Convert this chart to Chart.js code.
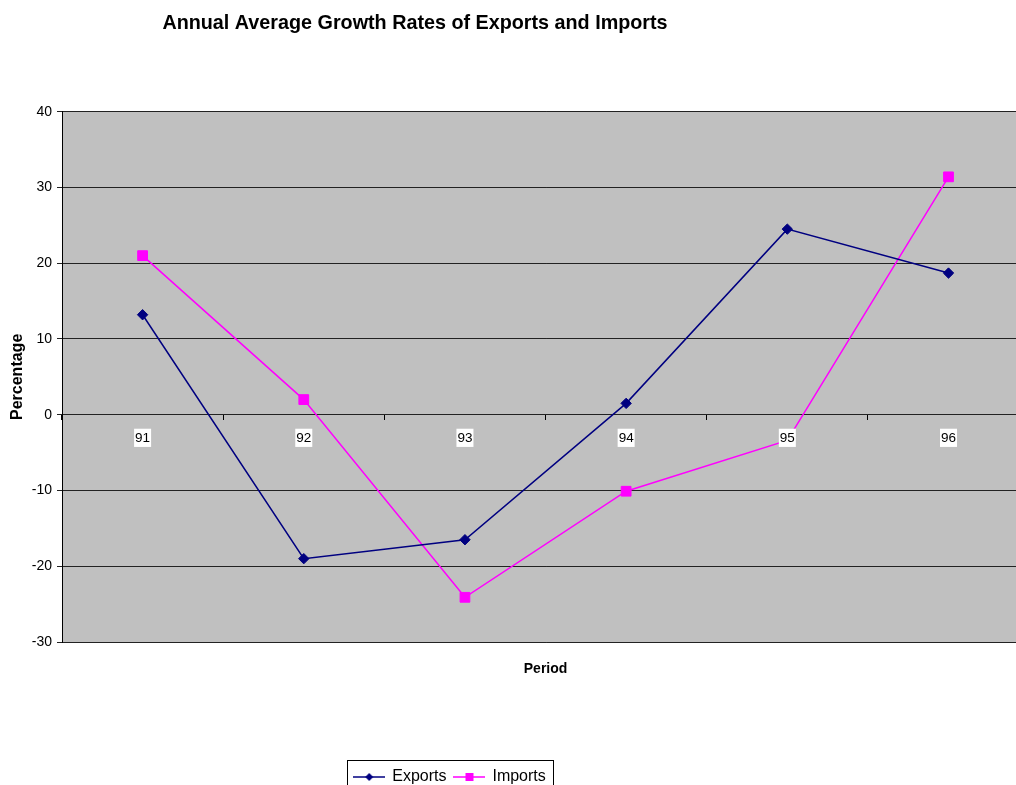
<!DOCTYPE html>
<html><head><meta charset="utf-8">
<script src="https://cdn.jsdelivr.net/npm/chart.js@4"></script>
<style>
html,body{margin:0;padding:0;overflow:hidden;background:#fff;}
#wrap{width:1037px;height:795px;}
</style></head><body>
<div id="wrap"><canvas id="c" width="1037" height="795"></canvas></div>
<script>
// ---- data ----
const categories = ['91', '92', '93', '94', '95', '96'];
const exportsValues = [13.2, -19.0, -16.5, 1.5, 24.5, 18.7];
const importsValues = [21.0, 2.0, -24.1, -10.1, -3.4, 31.4];
const yMin = -30, yMax = 40, yStep = 10;
const chartTitle = 'Annual Average Growth Rates of Exports and Imports';
const xTitle = 'Period';
const yTitle = 'Percentage';
const seriesNames = ['Exports', 'Imports'];

// ---- style ----
const FONT = "'Liberation Sans', Arial, sans-serif";
const EXP_COLOR = '#000080';
const IMP_COLOR = '#FF00FF';
const PLOT_BG = '#C0C0C0';
const TITLE_CX = 415;
const LEGEND_CX = 450;
const Y_AXIS_W = 62;
const X2_H = 119;

function legendIcon(color, shape) {
  const c = document.createElement('canvas');
  c.width = 32; c.height = 12;
  const g = c.getContext('2d');
  g.strokeStyle = color; g.lineWidth = 1.5;
  g.beginPath(); g.moveTo(0, 6); g.lineTo(32, 6); g.stroke();
  g.fillStyle = color;
  if (shape === 'diamond') {
    g.beginPath(); g.moveTo(12, 6); g.lineTo(16, 2); g.lineTo(20, 6); g.lineTo(16, 10); g.closePath(); g.fill();
  } else {
    g.fillRect(12, 2, 8, 8);
  }
  return c;
}
const icons = [legendIcon(EXP_COLOR, 'diamond'), legendIcon(IMP_COLOR, 'square')];

const plotBg = {
  id: 'plotBg',
  beforeDraw(chart) {
    const {ctx, chartArea: a} = chart;
    ctx.save(); ctx.fillStyle = PLOT_BG;
    ctx.fillRect(a.left, a.top, a.right - a.left, a.bottom - a.top);
    ctx.restore();
  }
};
const shiftBlocks = {
  id: 'shiftBlocks',
  afterLayout(chart) {
    const t = chart.titleBlock;
    if (t) { const d = TITLE_CX - (t.left + t.right) / 2; t.left += d; t.right += d; }
    const l = chart.legend;
    if (l) { const d = LEGEND_CX - (l.left + l.right) / 2; l.left += d; l.right += d; }
  },
  afterDraw(chart) {
    const hb = chart.legend && chart.legend.legendHitBoxes;
    if (!hb || !hb.length) return;
    let l = Infinity, r = -Infinity, t = Infinity, b = -Infinity;
    hb.forEach(h => { l = Math.min(l, h.left); r = Math.max(r, h.left + h.width); t = Math.min(t, h.top); b = Math.max(b, h.top + h.height); });
    const ctx = chart.ctx;
    ctx.save(); ctx.strokeStyle = '#000'; ctx.lineWidth = 1;
    ctx.strokeRect(Math.round(l - 7) + 0.5, Math.round(t - 9) + 0.5, Math.round(r - l + 14), Math.round(b - t + 18));
    ctx.restore();
  }
};

new Chart(document.getElementById('c'), {
  type: 'line',
  data: {
    labels: categories,
    datasets: [
      { label: seriesNames[0], data: exportsValues, borderColor: EXP_COLOR, backgroundColor: EXP_COLOR,
        borderWidth: 1.5, pointStyle: 'rectRot', pointRadius: 5.2, pointBorderWidth: 1, tension: 0, fill: false },
      { label: seriesNames[1], data: importsValues, borderColor: IMP_COLOR, backgroundColor: IMP_COLOR,
        borderWidth: 1.5, pointStyle: 'rect', pointRadius: 6.9, pointBorderWidth: 1, tension: 0, fill: false }
    ]
  },
  options: {
    responsive: false, animation: false, devicePixelRatio: 1,
    layout: { padding: 0 },
    plugins: {
      title: { display: true, text: chartTitle, color: '#000',
        font: { family: FONT, size: 19.75, weight: 'bold' }, padding: { top: 12, bottom: 76 } },
      legend: { display: true, position: 'bottom',
        labels: { usePointStyle: true, pointStyleWidth: 30, color: '#000', padding: 8,
          font: { family: FONT, size: 16 },
          generateLabels(chart) {
            const items = Chart.defaults.plugins.legend.labels.generateLabels(chart);
            items.forEach((it, i) => { it.pointStyle = icons[i]; });
            return items;
          } } },
      tooltip: { enabled: false }
    },
    scales: {
      x: {
        type: 'category', position: { y: 0 }, offset: true,
        grid: { display: true, drawOnChartArea: false, drawTicks: true, tickLength: 5, color: '#000', offset: true },
        border: { display: true, color: '#222', width: 1 },
        ticks: { font: { family: FONT, size: 13.5 }, color: '#000', padding: 10, maxRotation: 0, autoSkip: false,
          showLabelBackdrop: true, backdropColor: '#fff', backdropPadding: { top: 1, bottom: 1, left: 1, right: 1 }, z: 1 }
      },
      x2: {
        type: 'category', axis: 'x', position: 'bottom', offset: true,
        grid: { display: false }, border: { display: false }, ticks: { display: false },
        title: { display: true, text: xTitle, color: '#000', font: { family: FONT, size: 14, weight: 'bold' },
          padding: { top: 0, bottom: 83 } },
        afterFit(s) { s.height = X2_H; }
      },
      y: {
        min: yMin, max: yMax,
        ticks: { stepSize: yStep, color: '#000', padding: 5, font: { family: FONT, size: 14 } },
        grid: { color: '#222', drawTicks: true, tickLength: 5 },
        border: { display: true, color: '#000', width: 1 },
        title: { display: true, text: yTitle, color: '#000', font: { family: FONT, size: 16, weight: 'bold' },
          padding: { top: 8, bottom: 0 } },
        afterFit(s) { s.width = Y_AXIS_W; }
      }
    }
  },
  plugins: [plotBg, shiftBlocks]
});
</script>
</body></html>
